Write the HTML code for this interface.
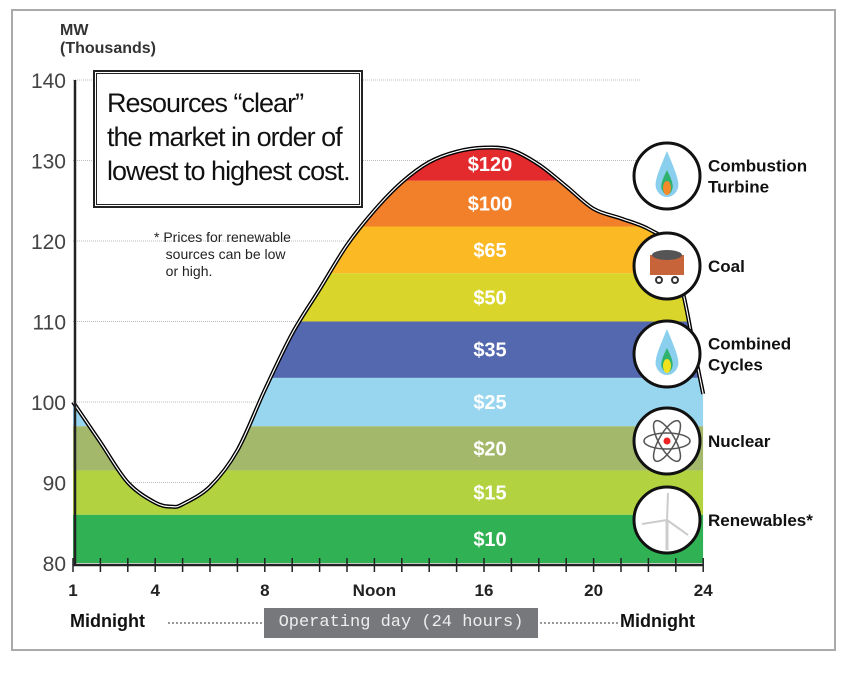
<!DOCTYPE html>
<html><head><meta charset="utf-8"><style>
body{margin:0;background:#fff;width:846px;height:668px;overflow:hidden}
text{font-family:"Liberation Sans",sans-serif}
</style></head><body>
<svg id="c" width="846" height="668">
<rect x="12" y="10" width="823" height="640" fill="#fff" stroke="#aaa" stroke-width="2"/>
</svg>
<script>
const hours=[1,2,3,4,4.6,5,6,7,8,9,10,11,12,13,14,15,16,17,18,19,20,21,22,22.8,23.3,23.7,24];
const load=[100,95,90,87.5,87,87.3,89.5,94,101.5,108.5,114,119.5,123.8,127.3,129.8,131.1,131.6,131.3,129.5,126.8,124,122.8,121.5,119.3,113,106,101];
const bandBounds=[80,86,91.5,97,103,110,116,121.8,127.5,140];
const bandPrices=["$10","$15","$20","$25","$35","$50","$65","$100","$120"];
const bandColors=["#2fb154","#b2d33f","#a3b86a","#98d6f0","#5468b0","#d9d52a","#fbb924","#f27f2a","#e32b2e"];
const yTicks=[80,90,100,110,120,130,140];
const xTickLabels=[[1,"1"],[4,"4"],[8,"8"],[12,"Noon"],[16,"16"],[20,"20"],[24,"24"]];
const resources=["Combustion Turbine","Coal","Combined Cycles","Nuclear","Renewables*"];
const NS="http://www.w3.org/2000/svg",svg=document.getElementById('c');
const X=h=>73+(h-1)*27.4, Y=v=>563-(v-80)*8.05;
function el(t,a,p){const e=document.createElementNS(NS,t);for(const k in a)e.setAttribute(k,a[k]);(p||svg).appendChild(e);return e;}
yTicks.forEach(v=>{if(v>80){const g=el('line',{x1:73,x2:640,y1:Y(v),y2:Y(v),stroke:'#bbb','stroke-dasharray':'1 1'});}
const t=el('text',{x:66,y:Y(v)+8,'text-anchor':'end','font-size':21,fill:'#444'});t.textContent=v;});
const pts=hours.map((h,i)=>[X(h),Y(load[i])]);
function smooth(p){let d='M'+p[0][0]+','+p[0][1];for(let i=0;i<p.length-1;i++){const p0=p[i-1]||p[i],p1=p[i],p2=p[i+1],p3=p[i+2]||p2;
d+=' C'+(p1[0]+(p2[0]-p0[0])/6)+','+(p1[1]+(p2[1]-p0[1])/6)+' '+(p2[0]-(p3[0]-p1[0])/6)+','+(p2[1]-(p3[1]-p1[1])/6)+' '+p2[0]+','+p2[1];}return d;}
const cd=smooth(pts);
const defs=el('defs',{});const cp=el('clipPath',{id:'cl'},defs);
el('path',{d:cd+' L'+X(24)+','+Y(80)+' L'+X(1)+','+Y(80)+'Z'},cp);
const bg=el('g',{'clip-path':'url(#cl)'});
bandPrices.forEach((p,i)=>{const r=el('rect',{x:X(1),width:X(24)-X(1),y:Y(bandBounds[i+1]),height:Y(bandBounds[i])-Y(bandBounds[i+1]),fill:bandColors[i]},bg);

const mid=(bandBounds[i]+Math.min(bandBounds[i+1],131.6))/2;
const t=el('text',{x:490,y:Y(mid)+7,'text-anchor':'middle','font-size':20,'font-weight':'bold',fill:'#fff'},bg);t.textContent=p;
});
const c1=el('path',{d:cd,fill:'none',stroke:'#000','stroke-width':4});
el('path',{d:cd,fill:'none',stroke:'#fff','stroke-width':1.2});
const ya=el('line',{x1:75,x2:75,y1:80,y2:565,stroke:'#222','stroke-width':2.5});
const xa=el('line',{x1:73,x2:X(24),y1:565,y2:565,stroke:'#222','stroke-width':2.5});
for(let h=1;h<=24;h++){el('line',{x1:X(h),x2:X(h),y1:558,y2:572,stroke:'#222','stroke-width':1.5});}
xTickLabels.forEach(([h,l])=>{const t=el('text',{x:X(h),y:596,'text-anchor':'middle','font-size':17,'font-weight':'bold',fill:'#222'});t.textContent=l;});
const cy=[176,266,354,441,520];
resources.forEach((r,i)=>{const g=el('g',{});
el('circle',{cx:667,cy:cy[i],r:33,fill:'#fff',stroke:'#111','stroke-width':3},g);
const parts=r.split(' ');parts.forEach((w,j)=>{const t=el('text',{x:708,y:cy[i]+6+(j-(parts.length-1)/2)*21,'font-size':17,'font-weight':'bold',fill:'#111'},g);t.textContent=w;});});
[[176,'#f58a2a'],[354,'#f0e21c']].forEach(([y,c])=>{el('path',{d:`M667,${y-25} C660,${y-8} 654,${y+5} 656,${y+12} C660,${y+24} 674,${y+24} 678,${y+12} C680,${y+5} 674,${y-8} 667,${y-25}Z`,fill:'#8ad0ee'});
el('path',{d:`M667,${y-6} C662,${y+4} 660,${y+10} 662,${y+14} C665,${y+20} 670,${y+20} 672,${y+14} C674,${y+10} 672,${y+4} 667,${y-6}Z`,fill:'#2fb170'});
el('ellipse',{cx:667,cy:y+12,rx:4,ry:7,fill:c});});
el('rect',{x:650,y:255,width:34,height:20,fill:'#c8643a'});el('ellipse',{cx:667,cy:255,rx:15,ry:5,fill:'#555'});
el('circle',{cx:659,cy:280,r:3,fill:'#fff',stroke:'#333','stroke-width':2});el('circle',{cx:675,cy:280,r:3,fill:'#fff',stroke:'#333','stroke-width':2});
[0,60,120].forEach(a=>el('ellipse',{cx:667,cy:441,rx:23,ry:8,fill:'none',stroke:'#555','stroke-width':1.5,transform:`rotate(${a} 667 441)`}));
el('circle',{cx:667,cy:441,r:3.5,fill:'#e22'});
el('line',{x1:667,y1:520,x2:667,y2:550,stroke:'#ccc','stroke-width':3});el('line',{x1:667,y1:520,x2:668,y2:493,stroke:'#ccc','stroke-width':2});
el('line',{x1:667,y1:520,x2:642,y2:524,stroke:'#ccc','stroke-width':2});el('line',{x1:667,y1:520,x2:688,y2:535,stroke:'#ccc','stroke-width':2});
</script>
<div style="position:absolute;left:60px;top:22px;font:bold 16px 'Liberation Sans',sans-serif;color:#333;line-height:18px">MW<br>(Thousands)</div>
<div style="position:absolute;left:93px;top:70px;width:270px;height:138px;border:2px solid #222;outline:1px solid #222;outline-offset:-4px;background:#fff;box-sizing:border-box;padding:14px 0 0 12px;font:27px/34px 'Liberation Sans Narrow','Liberation Sans',sans-serif;color:#111;letter-spacing:-1px">Resources “clear”<br>the market in order of<br>lowest to highest cost.</div>
<div style="position:absolute;left:154px;top:229px;font:14px/17px 'Liberation Sans',sans-serif;color:#222">* Prices for renewable<br>&nbsp;&nbsp;&nbsp;sources can be low<br>&nbsp;&nbsp;&nbsp;or high.</div>
<div style="position:absolute;left:70px;top:611px;font:bold 18px 'Liberation Sans',sans-serif;color:#111">Midnight</div>
<div style="position:absolute;left:168px;top:622px;width:450px;border-top:2px dotted #999"></div>
<div style="position:absolute;left:264px;top:608px;width:274px;height:30px;background:#77787b;color:#eee;font:17px/30px 'Liberation Mono',monospace;text-align:center">Operating day (24 hours)</div>
<div style="position:absolute;left:620px;top:611px;font:bold 18px 'Liberation Sans',sans-serif;color:#111">Midnight</div>
</body></html>
